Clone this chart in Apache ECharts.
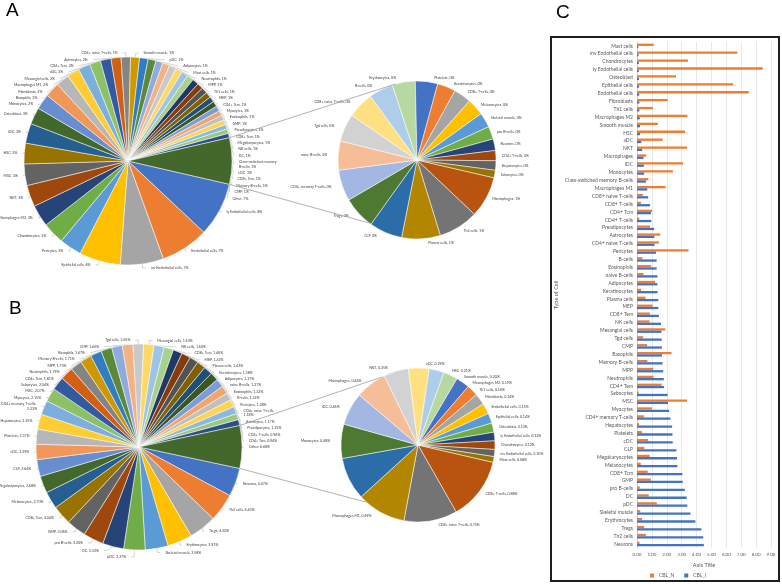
<!DOCTYPE html>
<html><head><meta charset="utf-8">
<script src="https://cdn.jsdelivr.net/npm/echarts@6/dist/echarts.min.js"></script>
<style>html,body{margin:0;padding:0;background:#fff}#c{width:782px;height:584px}</style>
</head><body><div id="c"></div>
<script>
// Categories in panel C order (top to bottom)
const cellTypes = ['Mast cells','mv Endothelial cells','Chondrocytes','ly Endothelial cells','Osteoblast','Epithelial cells','Endothelial cells','Fibroblasts','Th1 cells','Macrophages M2','Smooth muscle','HSC','aDC','NKT','Macrophages','iDC','Monocytes','Class-switched memory B-cells','Macrophages M1','CD8+ naive T-cells','CD8+ T-cells','CD4+ Tcm','CD4+ T-cells','Preadipocytes','Astrocytes','CD4+ naive T-cells','Pericytes','B-cells','Eosinophils','naive B-cells','Adipocytes','Keratinocytes','Plasma cells','MEP','CD8+ Tem','NK cells','Mesangial cells','Tgd cells','CMP','Basophils','Memory B-cells','MPP','Neutrophils','CD4+ Tem','Sebocytes','MSC','Myocytes','CD4+ memory T-cells','Hepatocytes','Platelets','cDC','CLP','Megakaryocytes','Melanocytes','CD8+ Tcm','GMP','pro B-cells','DC','pDC','Skeletal muscle','Erythrocytes','Tregs','Th2 cells','Neurons'];
// CBL_N (%), same order
const cblN = [1.12,6.74,3.42,8.45,2.62,6.46,7.50,2.06,1.06,3.39,1.40,3.23,1.72,3.37,0.61,3.09,2.41,0.76,1.92,0.39,0.26,1.02,0.15,0.88,1.56,1.47,3.46,0.36,0.95,0.43,1.22,0.27,0.57,1.04,0.86,0.84,1.90,0.41,0.68,2.32,0.70,1.09,1.11,1.65,0.11,3.36,1.00,0.46,0.14,0.33,0.75,0.49,0.85,0.25,0.72,0.93,0.19,0.79,1.33,0.22,0.34,0.48,0.59,0.17];
// CBL_I (%), same order
const cblI = [0.08,0.10,0.12,0.12,0.13,0.14,0.15,0.16,0.16,0.19,0.20,0.21,0.29,0.35,0.44,0.46,0.48,0.60,0.69,0.75,0.88,0.94,0.96,1.15,1.17,1.18,1.28,1.32,1.32,1.37,1.37,1.38,1.43,1.43,1.47,1.61,1.64,1.66,1.67,1.68,1.72,1.76,1.80,1.82,2.05,2.08,2.16,2.24,2.36,2.38,2.40,2.65,2.69,2.71,3.05,3.07,3.21,3.33,3.38,3.59,3.92,4.32,4.45,4.49];
const seriesNames = ['CBL_N','CBL_I'];
const xTicks = [0,1,2,3,4,5,6,7,8,9];
const secondaryCount = 21;

// Excel (Office) default palette with variations
const accents = ['#4472C4','#ED7D31','#A5A5A5','#FFC000','#5B9BD5','#70AD47'];
const variations = [[1,0],[0.6,0],[0.8,0.2],[0.8,0],[0.6,0.4],[0.5,0],[0.7,0.3],[0.7,0],[0.5,0.5]];
function hexToHsl(hex){
  const r=parseInt(hex.substr(1,2),16)/255,g=parseInt(hex.substr(3,2),16)/255,b=parseInt(hex.substr(5,2),16)/255;
  const mx=Math.max(r,g,b),mn=Math.min(r,g,b);let h=0,s=0;const l=(mx+mn)/2;
  if(mx!==mn){const d=mx-mn;s=l>0.5?d/(2-mx-mn):d/(mx+mn);
    if(mx===r)h=(g-b)/d+(g<b?6:0);else if(mx===g)h=(b-r)/d+2;else h=(r-g)/d+4;h/=6;}
  return [h,s,l];
}
function hslToHex(h,s,l){
  function f(p,q,t){if(t<0)t+=1;if(t>1)t-=1;if(t<1/6)return p+(q-p)*6*t;if(t<1/2)return q;if(t<2/3)return p+(q-p)*(2/3-t)*6;return p;}
  let r,g,b;if(s===0){r=g=b=l;}else{const q=l<0.5?l*(1+s):l+s-l*s;const p=2*l-q;r=f(p,q,h+1/3);g=f(p,q,h);b=f(p,q,h-1/3);}
  const t=x=>Math.round(x*255).toString(16).padStart(2,'0');return '#'+t(r)+t(g)+t(b);
}
function excelColor(i){
  const v=variations[Math.floor(i/6)%9];const [h,s,l]=hexToHsl(accents[i%6]);
  return hslToHex(h,s,Math.min(1,l*v[0]+v[1]));
}
function buildPie(values){
  const order = cellTypes.map((_,i)=>i).reverse();
  const items = order.map(i=>({name:cellTypes[i],value:values[i]}));
  items.sort((a,b)=>b.value-a.value);
  items.forEach((d,k)=>{d.itemStyle={color:excelColor(k)};});
  const total = items.reduce((s,d)=>s+d.value,0);
  const main = items.slice(0,items.length-secondaryCount);
  const sec = items.slice(items.length-secondaryCount);
  const other = sec.reduce((s,d)=>s+d.value,0);
  main.push({name:'Other',value:other,itemStyle:{color:excelColor(65)}});
  return {main,sec,total,other};
}
const pieA = buildPie(cblN);
const pieB = buildPie(cblI);

const FONT = 'Lato';
function lbl(total,digits,extra){
  return Object.assign({show:true,fontSize:3.6,color:'#404040',fontFamily:FONT,lineHeight:4.4,
    formatter:p=>p.name+', '+(p.value/total*100).toFixed(digits)+'%'},extra||{});
}
const geo = {
  A:{mc:[128,161],mr:104,sc:[417,160],sr:79,up:106,low:233},
  B:{mc:[139,447],mr:103,sc:[418,445],sr:77,up:118,low:228}
};
function connectors(g,frac){
  const half=frac*Math.PI;const r=Math.PI/180;
  const p1=[g.mc[0]+g.mr*Math.cos(half),g.mc[1]-g.mr*Math.sin(half)];
  const p2=[g.mc[0]+g.mr*Math.cos(half),g.mc[1]+g.mr*Math.sin(half)];
  const q1=[g.sc[0]+g.sr*Math.cos(g.up*r),g.sc[1]-g.sr*Math.sin(g.up*r)];
  const q2=[g.sc[0]+g.sr*Math.cos(g.low*r),g.sc[1]-g.sr*Math.sin(g.low*r)];
  return [p1,q1,p2,q2];
}
function lineEl(a,b){return {type:'line',shape:{x1:a[0],y1:a[1],x2:b[0],y2:b[1]},style:{stroke:'#a0a0a0',lineWidth:0.8},z:10};}
const cA=connectors(geo.A,pieA.other/pieA.total);
const cB=connectors(geo.B,pieB.other/pieB.total);

function mainPie(p,g,digits){
  return {type:'pie',center:g.mc,radius:g.mr,startAngle:-(p.other/p.total)*180,clockwise:true,
    data:p.main,itemStyle:{borderColor:'#fff',borderWidth:0.5},avoidLabelOverlap:true,
    label:lbl(p.total,digits,{width:40,overflow:'break'}),
    labelLine:{show:true,length:4,length2:3,lineStyle:{color:'#a6a6a6',width:0.5}},
    emphasis:{disabled:true},animation:false};
}
function secPie(p,g,digits){
  return {type:'pie',center:g.sc,radius:g.sr,startAngle:-13,clockwise:true,
    data:p.sec,itemStyle:{borderColor:'#fff',borderWidth:0.5},avoidLabelOverlap:true,
    label:lbl(p.total,digits),
    labelLine:{show:false,length:4,length2:2},
    emphasis:{disabled:true},animation:false};
}

const chart = echarts.init(document.getElementById('c'),null,{renderer:'canvas'});
chart.setOption({
  animation:false,
  backgroundColor:'#fff',
  textStyle:{fontFamily:FONT},
  graphic:[
    {type:'text',left:6,top:1,style:{text:'A',fontSize:19,fontFamily:'Liberation Sans',fill:'#000'}},
    {type:'text',left:9,top:299,style:{text:'B',fontSize:19,fontFamily:'Liberation Sans',fill:'#000'}},
    {type:'text',left:556,top:3,style:{text:'C',fontSize:19,fontFamily:'Liberation Sans',fill:'#000'}},
    {type:'rect',shape:{x:551,y:37,width:228,height:544},style:{fill:'none',stroke:'#1e1e1e',lineWidth:2},z:10},
    lineEl(cA[0],cA[1]),lineEl(cA[2],cA[3]),lineEl(cB[0],cB[1]),lineEl(cB[2],cB[3])
  ],
  legend:{data:seriesNames,left:645,top:568,itemWidth:4,itemHeight:4,itemGap:10,icon:'rect',
    textStyle:{fontSize:5,color:'#595959',fontFamily:FONT}},
  grid:{left:637,right:11,top:42,bottom:36},
  xAxis:{type:'value',min:0,max:9,interval:1,
    name:'Axis Title',nameLocation:'middle',nameGap:12,nameTextStyle:{fontSize:5.5,color:'#595959',fontFamily:FONT},
    axisLabel:{fontSize:4.5,color:'#595959',margin:4,formatter:v=>xTicks.indexOf(v)>=0?v.toFixed(2):''},
    axisLine:{show:false},axisTick:{show:false},
    splitLine:{lineStyle:{color:'#d9d9d9',width:0.6}}},
  yAxis:{type:'category',data:cellTypes,inverse:true,
    name:'Type of Cell',nameLocation:'middle',nameGap:78,nameRotate:90,
    nameTextStyle:{fontSize:5.5,color:'#595959',fontFamily:FONT},
    axisLabel:{interval:0,fontSize:5,color:'#595959',margin:4,fontFamily:FONT},
    axisLine:{lineStyle:{color:'#bfbfbf',width:0.6}},axisTick:{show:false}},
  series:[
    {name:'CBL_N',type:'bar',data:cblN,barWidth:2.3,barGap:'0%',itemStyle:{color:'#ED7D31'}},
    {name:'CBL_I',type:'bar',data:cblI,barWidth:2.3,barGap:'0%',itemStyle:{color:'#4472C4'}},
    mainPie(pieA,geo.A,0),
    secPie(pieA,geo.A,0),
    mainPie(pieB,geo.B,2),
    secPie(pieB,geo.B,2)
  ]
});
</script></body></html>
